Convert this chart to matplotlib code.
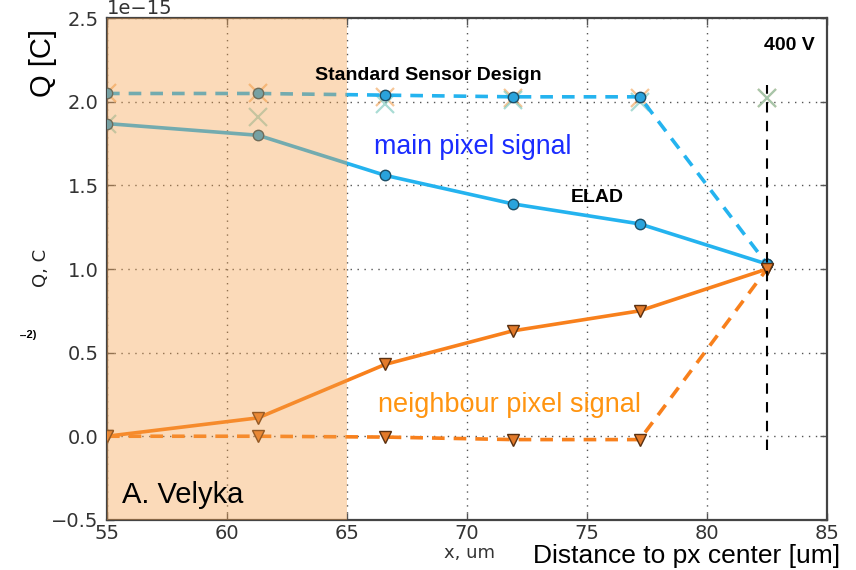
import matplotlib
matplotlib.use("Agg")
import matplotlib.pyplot as plt
from matplotlib.ticker import ScalarFormatter

plt.rcParams['font.family'] = ['Liberation Sans', 'DejaVu Sans']

# positions across the pixel edge (um)
x_pos = [55.0, 61.3, 66.6, 71.9, 77.2, 82.5]

# collected charge, in units of 1e-15 C
elad_main = [1.87, 1.80, 1.56, 1.39, 1.27, 1.03]
elad_neigh = [0.00, 0.11, 0.43, 0.63, 0.75, 1.00]
std_main = [2.05, 2.05, 2.04, 2.03, 2.03, 1.03]
std_neigh = [0.00, 0.00, -0.005, -0.02, -0.02, 1.00]

# extra reference points drawn as crosses
ref_main_x = [1.87, 1.91, 1.99, 2.01, 2.00, 2.02]
ref_neigh_x = [2.05, 2.05, 2.03, 2.02, 2.02, 2.02]

scale = 1e-15
edge_x = 82.5
shade_range = (55, 65)

x_ticks = [55, 60, 65, 70, 75, 80, 85]
y_ticks = [-0.5, 0.0, 0.5, 1.0, 1.5, 2.0, 2.5]

blue = '#24b3ef'
blue_face = '#2aa3dc'
orange = '#f8801c'
orange_face = '#e27a2a'

fig = plt.figure(figsize=(8.56, 5.70), dpi=100)
ax = fig.add_axes([0.125, 0.088, 0.841, 0.880])

def s(v):
    return [a * scale for a in v]

# crosses
ax.plot(x_pos, s(ref_neigh_x), linestyle='none', marker='x', ms=13, mew=1.6,
        color='#f0a050', alpha=0.6, zorder=2)
ax.plot(x_pos, s(ref_main_x), linestyle='none', marker='x', ms=13, mew=1.6,
        color='#72c6b8', alpha=0.6, zorder=2)

# standard design (dashed)
ax.plot(x_pos, s(std_main), linestyle=(0, (3.5, 2.5)), lw=2.6, color=blue,
        marker='o', ms=7.5, mfc=blue_face, mec='#1d4e66', mew=1.0, zorder=3)
ax.plot(x_pos, s(std_neigh), linestyle=(0, (3.5, 2.5)), lw=2.6, color=orange,
        marker='v', ms=8, mfc=orange_face, mec='#5a3010', mew=1.0, zorder=3)

# ELAD (solid)
ax.plot(x_pos, s(elad_main), linestyle='-', lw=2.6, color=blue,
        marker='o', ms=7.5, mfc=blue_face, mec='#1d4e66', mew=1.0, zorder=3)
ax.plot(x_pos, s(elad_neigh), linestyle='-', lw=2.6, color=orange,
        marker='v', ms=8, mfc=orange_face, mec='#5a3010', mew=1.0, zorder=3)

# pixel edge
ax.plot([edge_x, edge_x], [-0.08 * scale, 2.1 * scale], color='black',
        lw=1.5, linestyle=(0, (5, 4)), zorder=4)

# shaded region
ax.axvspan(*shade_range, color='#f59f48', alpha=0.38, lw=0, zorder=5)

ax.set_xlim(55, 85)
ax.set_ylim(-0.5 * scale, 2.5 * scale)
ax.set_xticks(x_ticks)
ax.set_yticks(s(y_ticks))

fmt = ScalarFormatter(useMathText=False)
fmt.set_powerlimits((-3, 3))
ax.yaxis.set_major_formatter(fmt)
off = ax.yaxis.get_offset_text()
off.set_fontsize(14)
off.set_color('#333333')
off.set_family('DejaVu Sans')

ax.grid(True, linestyle=(0, (1, 4)), color='#555555', lw=1.0, zorder=1)
ax.set_axisbelow(True)
ax.tick_params(direction='in', top=True, right=True, length=5, width=1,
               labelsize=14, labelcolor='#333333', color='#555555')
ax.tick_params(axis='x', pad=3)
ax.tick_params(axis='y', pad=6)
for lab in ax.get_xticklabels() + ax.get_yticklabels():
    lab.set_family('DejaVu Sans')
for sp in ax.spines.values():
    sp.set_linewidth(1.6)
    sp.set_color('#444444')

# annotations
ax.text(0.446, 0.886, 'Standard Sensor Design', transform=ax.transAxes,
        fontsize=14, fontweight='bold', ha='center', va='center', zorder=6)
ax.text(0.983, 0.945, '400 V', transform=ax.transAxes, fontsize=14,
        fontweight='bold', ha='right', va='center', zorder=6)
ax.text(0.644, 0.643, 'ELAD', transform=ax.transAxes, fontsize=14,
        fontweight='bold', ha='left', va='center', zorder=6)
ax.text(0.371, 0.744, 'main pixel signal', transform=ax.transAxes,
        fontsize=19.3, color='#1a2cff', ha='left', va='center', zorder=6)
ax.text(0.376, 0.228, 'neighbour pixel signal', transform=ax.transAxes,
        fontsize=19.5, color='#ff9410', ha='left', va='center', zorder=6)
ax.text(0.021, 0.05, 'A. Velyka', transform=ax.transAxes, fontsize=21,
        color='black', ha='left', va='center', zorder=6)

fig.text(0.050, 0.89, 'Q [C]', rotation=90, fontsize=21, ha='center',
         va='center')
fig.text(0.048, 0.53, 'Q, C', rotation=90, fontsize=13, ha='center',
         va='center', color='#222222', family='DejaVu Sans')
fig.text(0.033, 0.413, '\u02d7-2)', fontsize=8, fontweight='bold',
         ha='center', va='center')
fig.text(0.548, 0.030, 'x, um', fontsize=13, ha='center', va='center',
         color='#333333', family='DejaVu Sans')
fig.text(0.982, 0.003, 'Distance to px center [um]', fontsize=19,
         ha='right', va='bottom', color='black')

fig.savefig('out.png', dpi=100)
